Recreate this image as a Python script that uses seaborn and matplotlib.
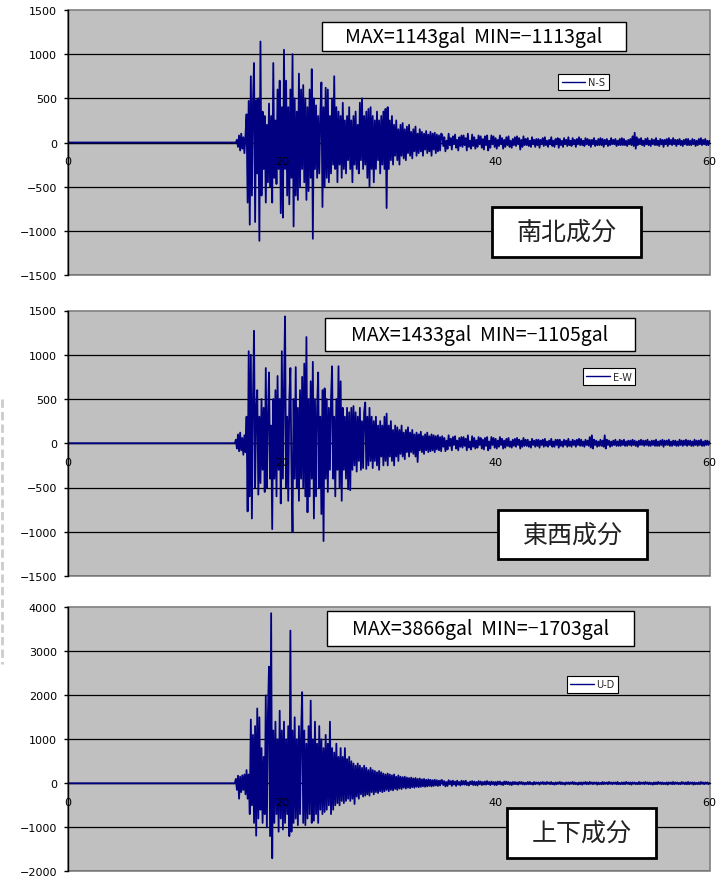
import numpy as np
import pandas as pd
import matplotlib
matplotlib.use("Agg")
import matplotlib.pyplot as plt
from matplotlib.patches import Rectangle
from matplotlib.lines import Line2D
import seaborn as sns

# ---------------- data ----------------
COMPONENTS = ["N-S", "E-W", "U-D"]
TITLES = ["南北成分", "東西成分", "上下成分"]
MAX_GAL = [1143, 1433, 3866]
MIN_GAL = [-1113, -1105, -1703]
Y_TICKS = [
    [-1500, -1000, -500, 0, 500, 1000, 1500],
    [-1500, -1000, -500, 0, 500, 1000, 1500],
    [-2000, -1000, 0, 1000, 2000, 3000, 4000],
]
X_TICKS = [0, 20, 40, 60]

STRONG_START, STRONG_STEP = 15.5, 0.1
CODA_START, CODA_STEP = 35.0, 0.1

ns_strong = [
    0, 0, 0, 30, -50, 80, -90, 100, -70, 60,
    -120, 80, 320, -680, 470, -930, 750, -600, 450, 900,
    -900, 480, -350, 500, -1113, 1143, -600, 350, -300, 300,
    -680, 200, -450, 440, -500, 300, -680, 900, -400, 250,
    -470, 600, -300, 700, -800, 400, -850, 1050, -300, 700,
    -600, 400, -700, 600, -400, 1000, -950, 500, -600, 350,
    -650, 780, -500, 600, -300, 650, -450, 500, -650, 400,
    -550, 600, -400, 830, -1090, 500, -300, 420, -400, 300,
    -350, 300, 680, -730, 400, -500, 620, -400, 600, -450,
    300, -350, 500, -250, 750, -300, 400, -450, 350, -250,
    300, -400, 450, -300, 250, -350, 300, -200, 400, -300,
    250, -450, 300, -250, 350, -300, 200, -350, 450, -200,
    500, -300, 300, -250, 350, -400, 380, -500, 400, -300,
    300, -450, 250, -300, 350, -200, 250, -350, 300, -250,
    350, -300, 380, -742, 400, -300, 250, -200, 300, -250,
    200, -150, 250, -200, 150, -250, 200, -150, 220, -180,
    150, -200, 180, -120, 200, -150, 120, -180, 150, -100,
    180, -150, 100, -120, 150, -100, 120, -150, 100, -80,
    130, -120, 90, -100, 120, -150, 100, -80, 110, -120,
    90, -100, 80, -90, 100,
]
ns_coda = [
    90, -40, 60, -100, 20, -70, 100, -30, 50, -80,
    70, -20, 90, -60, 30, -90, 60, -40, 80, -50,
    80, -30, 50, -90, 100, -50, 20, -70, 90, -40,
    60, -70, 30, -50, 80, -20, 70, -60, 40, -80,
    70, -30, 80, -90, 20, -60, 80, -20, 70, -50,
    50, -70, 30, -40, 80, -20, 50, -70, 30, -50,
    60, -30, 70, -50, 20, -60, 40, -30, 60, -40,
    70, -20, 50, -80, 30, -50, 70, -30, 40, -30,
    50, -40, 20, -50, 60, -20, 30, -50, 40, -30,
    40, -60, 30, -20, 50, -40, 60, -30, 20, -50,
    30, -20, 60, -40, 20, -50, 40, -20, 50, -60,
    40, -30, 20, -50, 50, -20, 30, -40, 60, -30,
    20, -40, 50, -20, 30, -50, 40, -20, 60, -30,
    40, -30, 20, -40, 50, -20, 40, -30, 30, -50,
    30, -20, 50, -40, 20, -30, 40, -30, 50, -30,
    40, -50, 30, -20, 40, -40, 20, -30, 50, -20,
    30, -20, 40, -40, 20, -30, 40, -30, 50, -30,
    40, -30, 20, -40, 30, -20, 40, -30, 70, -40,
    110, -70, 60, -30, 40, -20, 50, -30, 20, -40,
    40, -20, 50, -30, 20, -40, 40, -20, 30, -30,
    50, -30, 20, -40, 40, -20, 30, -50, 30, -20,
    40, -40, 50, -20, 30, -30, 50, -20, 30, -40,
    30, -20, 40, -30, 20, -40, 30, -20, 40, -30,
    40, -30, 20, -30, 40, -20, 30, -40, 20, -30,
    40, -20, 50, -30, 30, -20, 40, -30, 20, -30,
    20,
]

ew_strong = [
    0, 0, 40, -60, 100, -90, 120, -80, 60, -130,
    90, -100, 300, -770, 1040, -600, 1000, -850, 500, 1270,
    -500, 400, 600, -580, 300, -450, 500, -300, 400, -550,
    850, -500, 300, 800, -400, 200, -970, 500, -400, 600,
    -600, 760, -300, 500, -680, 1040, -400, 600, 1433, -500,
    300, -650, 500, 850, -300, -1000, 500, -400, 860, -500,
    400, -650, 600, -400, 750, -500, 900, -600, 1200, -780,
    500, -600, 700, -400, 920, -850, 500, -600, 400, 800,
    -500, 300, -800, 600, -1105, 620, -400, 500, -550, 400,
    -300, 500, 870, -400, 300, -600, 500, -300, 870, -500,
    700, -650, 400, -300, 300, -400, 400, -520, 350, -530,
    400, -300, 420, -250, 350, -320, 300, -200, 400, -300,
    250, -280, 350, 460, -290, 300, -250, 400, -200, 300,
    -280, 250, -200, 300, -250, 200, -300, 250, -150, 200,
    -250, 300, -200, 335, -250, 200, -150, 250, -200, 150,
    -250, 200, -150, 180, -200, 150, -120, 200, -150, 120,
    -180, 150, -100, 180, -150, 120, -100, 150, -120, 100,
    -150, 120, -212, 100, -80, 130, -100, 80, -120, 100,
    -80, 120, -100, 80, -90, 100, -80, 90, -100, 80,
    -70, 90, -80, 70, -90,
]
ew_coda = [
    80, -40, 60, -90, 30, -70, 90, -30, 50, -80,
    70, -20, 80, -60, 30, -80, 60, -40, 70, -50,
    70, -30, 50, -80, 90, -50, 20, -70, 80, -40,
    60, -60, 30, -50, 70, -20, 60, -60, 40, -70,
    60, -30, 70, -80, 20, -60, 70, -20, 60, -50,
    50, -60, 30, -40, 70, -20, 50, -60, 30, -50,
    50, -30, 60, -40, 20, -50, 40, -30, 50, -40,
    60, -20, 40, -60, 30, -40, 60, -30, 40, -30,
    40, -40, 20, -50, 50, -20, 30, -40, 40, -30,
    40, -50, 30, -20, 40, -40, 50, -30, 20, -40,
    30, -20, 50, -40, 20, -40, 40, -20, 40, -50,
    40, -30, 20, -40, 40, -20, 30, -40, 50, -30,
    20, -40, 40, -20, 30, -40, 40, -20, 50, -30,
    40, -30, 20, -40, 40, -20, 30, -30, 70, -50,
    90, -60, 40, -20, 30, -40, 20, -30, 40, -30,
    30, -40, 90, -60, 40, -20, 30, -40, 20, -30,
    30, -20, 40, -30, 20, -30, 40, -30, 30, -20,
    40, -30, 20, -30, 30, -20, 30, -30, 40, -20,
    30, -30, 20, -40, 30, -20, 40, -20, 30, -30,
    30, -20, 40, -30, 20, -30, 30, -20, 30, -30,
    40, -30, 20, -30, 30, -20, 40, -40, 30, -20,
    30, -20, 40, -30, 20, -30, 30, -20, 30, -30,
    20, -30, 40, -20, 30, -30, 30, -20, 40, -30,
    30, -20, 30, -30, 20, -30, 40, -20, 30, -30,
    30, -20, 40, -30, 20, -30, 30, -20, 30, -20,
    20,
]

ud_strong = [
    0, 0, 100, -150, 170, -350, 150, -200, 180, -150,
    200, -250, 300, -350, 200, -700, 1450, -500, 1100, -900,
    1300, -1190, 1700, -800, 1500, -600, 800, -900, 600, -700,
    2000, -1000, 1600, 2650, -1200, 3866, -1703, 1200, -900, 1400,
    -700, 1000, -1100, 1650, -800, 1200, -1050, 1400, -900, 1000,
    -700, 1300, -1200, 3470, -1100, 1200, -900, 1500, -800, 1000,
    -950, 1300, -700, 1100, 2070, -900, 1200, -950, 900, -800,
    1300, -700, 1880, -900, 1000, -850, 1400, -700, 900, -900,
    1300, -600, 1000, -700, 800, -650, 1100, -600, 900, -500,
    1400, -700, 800, -600, 700, -500, 900, -450, 600, -500,
    800, -400, 600, -450, 800, -400, 550, -350, 600, -400,
    500, -350, 450, -470, 400, -300, 450, -350, 400, -250,
    350, -300, 400, -280, 350, -250, 300, -280, 350, -200,
    300, -250, 280, -200, 250, -220, 280, -180, 250, -200,
    220, -180, 200, -150, 220, -180, 200, -150, 180, -160,
    200, -130, 150, -150, 180, -120, 150, -130, 140, -100,
    150, -120, 130, -100, 120, -110, 130, -90, 110, -100,
    120, -80, 100, -90, 110, -80, 90, -70, 100, -80,
    80, -70, 90, -60, 80, -70, 70, -60, 80, -50,
    70, -60, 60, -50, 70,
]
ud_coda = [
    70, -40, 50, -70, 30, -60, 70, -20, 50, -60,
    60, -30, 40, -60, 60, -30, 30, -50, 60, -30,
    50, -30, 60, -40, 20, -50, 40, -20, 50, -40,
    40, -40, 30, -50, 50, -20, 40, -40, 30, -30,
    40, -30, 50, -20, 30, -40, 40, -20, 30, -40,
    30, -40, 40, -20, 40, -30, 20, -40, 40, -20,
    40, -20, 30, -30, 20, -40, 30, -20, 30, -20,
    20, -30, 30, -10, 30, -20, 20, -30, 10, -20,
    30, -20, 30, -20, 10, -30, 30, -20, 20, -10,
    20, -30, 20, -10, 30, -20, 20, -20, 30, -10,
    20, -20, 30, -20, 10, -30, 20, -20, 20, -10,
    30, -20, 20, -20, 10, -30, 20, -10, 20, -20,
    20, -10, 30, -20, 20, -20, 10, -30, 20, -20,
    20, -30, 20, -10, 30, -20, 20, -20, 30, -10,
    20, -20, 20, -10, 20, -30, 20, -20, 10, -20,
    30, -20, 20, -10, 20, -20, 30, -10, 20, -20,
    20, -10, 20, -20, 30, -20, 10, -20, 20, -20,
    20, -20, 30, -10, 20, -20, 20, -30, 20, -10,
    20, -20, 10, -20, 30, -20, 20, -10, 20, -20,
    30, -10, 20, -20, 20, -20, 10, -30, 20, -20,
    20, -20, 30, -10, 20, -20, 20, -20, 10, -20,
    20, -30, 20, -10, 20, -20, 30, -20, 20, -10,
    20, -20, 10, -20, 30, -10, 20, -20, 20, -20,
    30, -20, 20, -10, 20, -30, 20, -20, 10, -20,
    20, -20, 30, -10, 20, -20, 20, -10, 20, -20,
    10,
]

STRONG = [ns_strong, ew_strong, ud_strong]
CODA = [ns_coda, ew_coda, ud_coda]

# ---------------- layout (pixels of a 728x878 canvas) ----------------
W, H = 728, 878
PANEL_PX = [(68, 11, 709.5, 276), (68, 311.5, 709.5, 577), (68, 608.3, 709.5, 872.3)]
MAXBOX_PX = [(321.7, 22.7, 626.3, 51.7), (325, 319.3, 634.7, 352.3), (326.7, 612.3, 634, 646.7)]
NAMEBOX_PX = [(491.7, 208.3, 640.7, 257.7), (498.3, 510.7, 647.3, 560), (506.7, 809.3, 656.3, 859)]
LEGEND_PX = [(583.5, 83), (609, 377.8), (592.5, 685.5)]

sns.set_theme(style="white")
plt.rcParams["font.family"] = ["DejaVu Sans"]
plt.rcParams["axes.unicode_minus"] = True
JP = ["Noto Sans CJK JP", "DejaVu Sans"]

fig = plt.figure(figsize=(W / 100, H / 100), dpi=100)
fig.patch.set_facecolor("white")


def to_axes(ax_px, x, y):
    l, t, r, b = ax_px
    return (x - l) / (r - l), (b - y) / (b - t)


for i, comp in enumerate(COMPONENTS):
    l, t, r, b = PANEL_PX[i]
    ax = fig.add_axes([l / W, 1 - b / H, (r - l) / W, (b - t) / H])
    strong = np.asarray(STRONG[i], dtype=float)
    coda = np.asarray(CODA[i], dtype=float)
    time = np.concatenate([[0.0],
                           STRONG_START + STRONG_STEP * np.arange(len(strong)),
                           CODA_START + CODA_STEP * np.arange(len(coda))])
    acc = np.concatenate([[0.0], strong, coda])
    df = pd.DataFrame({"time": time, "acc": acc})

    ax.set_facecolor("#C0C0C0")
    ax.patch.set_edgecolor("#808080")
    ax.patch.set_linewidth(1.2)

    # horizontal gridlines (all major ticks except the top border)
    for yv in Y_TICKS[i][:-1]:
        ax.axhline(yv, color="black", lw=0.9, zorder=1)

    sns.lineplot(data=df, x="time", y="acc", ax=ax, color="#000080", lw=1.3,
                 label=comp, estimator=None, sort=False, zorder=2)
    ax.set_xlim(X_TICKS[0], X_TICKS[-1])
    ax.set_ylim(Y_TICKS[i][0], Y_TICKS[i][-1])
    ax.set_xticks(X_TICKS)
    ax.set_yticks(Y_TICKS[i])
    ax.set_xlabel("")
    ax.set_ylabel("")
    ax.grid(False)
    ax.xaxis.set_zorder(4)
    ax.yaxis.set_zorder(4)

    for s in ("top", "right"):
        ax.spines[s].set_visible(False)
    ax.spines["bottom"].set_position(("data", 0))
    ax.spines["bottom"].set_color("black")
    ax.spines["bottom"].set_linewidth(0.9)
    ax.spines["bottom"].set_zorder(1)
    ax.spines["left"].set_color("black")
    ax.spines["left"].set_linewidth(1.0)

    ax.tick_params(axis="y", direction="out", length=3, width=1, color="black",
                   labelsize=8, pad=5, labelcolor="black", left=True)
    ax.tick_params(axis="x", length=0, labelsize=8, pad=10, labelcolor="black")

    # legend
    lx, ly = to_axes(PANEL_PX[i], *LEGEND_PX[i])
    leg = ax.legend(loc="center", bbox_to_anchor=(lx, ly), frameon=True, fancybox=False,
                    framealpha=1, edgecolor="black", facecolor="white", fontsize=7,
                    handlelength=2.4, handletextpad=0.3, borderpad=0.35, borderaxespad=0)
    leg.get_frame().set_linewidth(0.8)
    for h in leg.get_lines():
        h.set_linewidth(1.0)
    leg.set_zorder(6)

    # MAX / MIN box
    x0, y1 = to_axes(PANEL_PX[i], MAXBOX_PX[i][0], MAXBOX_PX[i][1])
    x1, y0 = to_axes(PANEL_PX[i], MAXBOX_PX[i][2], MAXBOX_PX[i][3])
    ax.add_patch(Rectangle((x0, y0), x1 - x0, y1 - y0, transform=ax.transAxes,
                           facecolor="white", edgecolor="black", lw=1.0, zorder=5))
    ax.text((x0 + x1) / 2, (y0 + y1) / 2,
            f"MAX={MAX_GAL[i]}gal  MIN=\u2212{abs(MIN_GAL[i])}gal",
            transform=ax.transAxes, ha="center", va="center", fontsize=14,
            family=JP, color="black", zorder=6)

    # component name box
    x0, y1 = to_axes(PANEL_PX[i], NAMEBOX_PX[i][0], NAMEBOX_PX[i][1])
    x1, y0 = to_axes(PANEL_PX[i], NAMEBOX_PX[i][2], NAMEBOX_PX[i][3])
    ax.add_patch(Rectangle((x0, y0), x1 - x0, y1 - y0, transform=ax.transAxes,
                           facecolor="white", edgecolor="black", lw=2.0, zorder=5))
    ax.text((x0 + x1) / 2, (y0 + y1) / 2, TITLES[i], transform=ax.transAxes,
            ha="center", va="center", fontsize=18, family=JP, color="#222222", zorder=6)

# faint dashed mark at the left edge of the page
fig.add_artist(Line2D([1.5 / W, 1.5 / W], [1 - 400 / H, 1 - 665 / H],
                      transform=fig.transFigure, color="#cccccc", lw=2,
                      linestyle=(0, (3, 1.5))))

fig.savefig("out.png", dpi=100, facecolor="white")
